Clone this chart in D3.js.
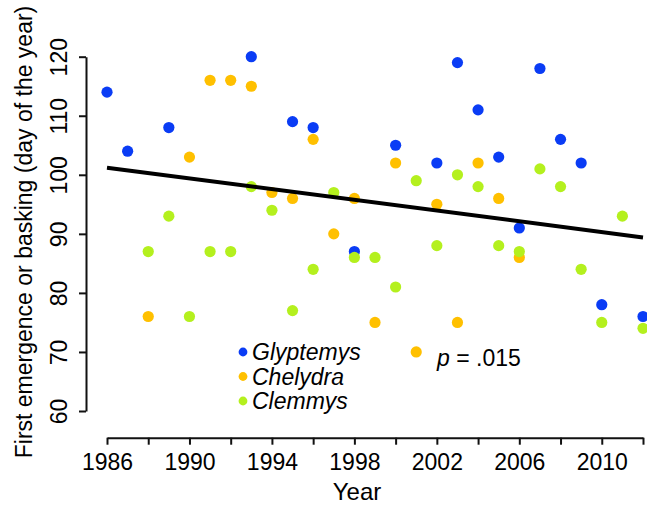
<!DOCTYPE html>
<html>
<head>
<meta charset="utf-8">
<script src="https://cdn.jsdelivr.net/npm/d3@7"></script>
<style>
  html, body { margin: 0; padding: 0; background: #fff; }
  svg { display: block; }
  text { font-family: "Liberation Sans", Arial, Helvetica, sans-serif; fill: #000; }
</style>
</head>
<body>
<svg id="chart" width="647" height="506"></svg>
<script>
// ---- data ----
const glyptemysYears  = [1986, 1987, 1989, 1993, 1995, 1996, 1998, 2000, 2002, 2003, 2004, 2005, 2006, 2007, 2008, 2009, 2010, 2012];
const glyptemysValues = [114, 104, 108, 120, 109, 108, 87, 105, 102, 119, 111, 103, 91, 118, 106, 102, 78, 76];

const chelydraYears  = [1988, 1990, 1991, 1992, 1993, 1994, 1995, 1996, 1997, 1998, 1999, 2000, 2001, 2002, 2003, 2004, 2005, 2006];
const chelydraValues = [76, 103, 116, 116, 115, 97, 96, 106, 90, 96, 75, 102, 70, 95, 75, 102, 96, 86];

const clemmysYears  = [1988, 1989, 1990, 1991, 1992, 1993, 1994, 1995, 1996, 1997, 1998, 1999, 2000, 2001, 2002, 2003, 2004, 2005, 2006, 2007, 2008, 2009, 2010, 2011, 2012];
const clemmysValues = [87, 93, 76, 87, 87, 98, 94, 77, 84, 97, 86, 86, 81, 99, 88, 100, 98, 88, 87, 101, 98, 84, 75, 93, 74];

const trendYears  = [1986, 2012];
const trendValues = [101.2, 89.4];

const seriesNames  = ["Glyptemys", "Chelydra", "Clemmys"];
const seriesColors = ["#0a3cf5", "#ffc000", "#b4f01e"];

const xTicks = [1986, 1988, 1990, 1992, 1994, 1996, 1998, 2000, 2002, 2004, 2006, 2008, 2010, 2012];
const xLabelTicks = [1986, 1990, 1994, 1998, 2002, 2006, 2010];
const yTicks = [60, 70, 80, 90, 100, 110, 120];

const xTitle = "Year";
const yTitle = "First emergence or basking (day of the year)";
const pText = " = .015";

// ---- drawing ----
const svg = d3.select("#chart");
const x = d3.scaleLinear().domain([1986, 2012]).range([107, 643]);
const y = d3.scaleLinear().domain([60, 120]).range([411, 56.7]);
const xAxisY = 437.7, yAxisX = 86;
const fs = 23;
const ff = "Liberation Sans, Arial, sans-serif";

// x axis
const gx = svg.append("g").attr("transform", `translate(0,${xAxisY})`)
  .call(d3.axisBottom(x).tickValues(xTicks).tickSize(7).tickSizeOuter(0)
    .tickFormat(d => xLabelTicks.includes(d) ? String(d) : ""));
gx.select(".domain").attr("stroke", "#111").attr("stroke-width", 2);
gx.selectAll(".tick line").attr("stroke", "#111").attr("stroke-width", 2);
gx.selectAll(".tick text").attr("y", 32).attr("dy", 0)
  .attr("font-size", fs).attr("font-family", ff).attr("fill", "#000");

// y axis
const gy = svg.append("g").attr("transform", `translate(${yAxisX},0)`)
  .call(d3.axisLeft(y).tickValues(yTicks).tickSize(7).tickSizeOuter(0).tickFormat(d3.format("d")));
gy.select(".domain").attr("stroke", "#111").attr("stroke-width", 2);
gy.selectAll(".tick line").attr("stroke", "#111").attr("stroke-width", 2);
gy.selectAll(".tick text").attr("x", 0).attr("dy", 0)
  .attr("transform", "translate(-19,0) rotate(-90)")
  .attr("text-anchor", "middle")
  .attr("font-size", fs).attr("font-family", ff).attr("fill", "#000");

// axis titles
svg.append("text").attr("x", 357).attr("y", 500).attr("text-anchor", "middle")
  .attr("font-size", 24).text(xTitle);
svg.append("text").attr("transform", "translate(32,232) rotate(-90)")
  .attr("text-anchor", "middle").attr("font-size", fs).text(yTitle);

// points
const series = [
  {years: glyptemysYears, values: glyptemysValues},
  {years: chelydraYears, values: chelydraValues},
  {years: clemmysYears, values: clemmysValues}
];
series.forEach((s, i) => {
  const pts = s.years.map((yr, k) => ({yr, v: s.values[k]}));
  svg.append("g").selectAll("circle").data(pts).join("circle")
    .attr("cx", d => x(d.yr)).attr("cy", d => y(d.v)).attr("r", 5.6)
    .attr("fill", seriesColors[i]);
});

// trend line
const trend = trendYears.map((yr, k) => [x(yr), y(trendValues[k])]);
svg.append("path").attr("d", d3.line()(trend))
  .attr("stroke", "#000").attr("stroke-width", 4).attr("fill", "none");

// legend
const lg = svg.append("g");
seriesNames.forEach((name, i) => {
  const by = 360 + i * 24.5;
  lg.append("circle").attr("cx", 243).attr("cy", by - 8).attr("r", 4.4).attr("fill", seriesColors[i]);
  lg.append("text").attr("x", 252).attr("y", by).attr("font-size", fs)
    .attr("font-style", "italic").text(name);
});

// p value
const pt = svg.append("text").attr("x", 437).attr("y", 366).attr("font-size", fs);
pt.append("tspan").attr("font-style", "italic").text("p");
pt.append("tspan").text(pText);
</script>
</body>
</html>
